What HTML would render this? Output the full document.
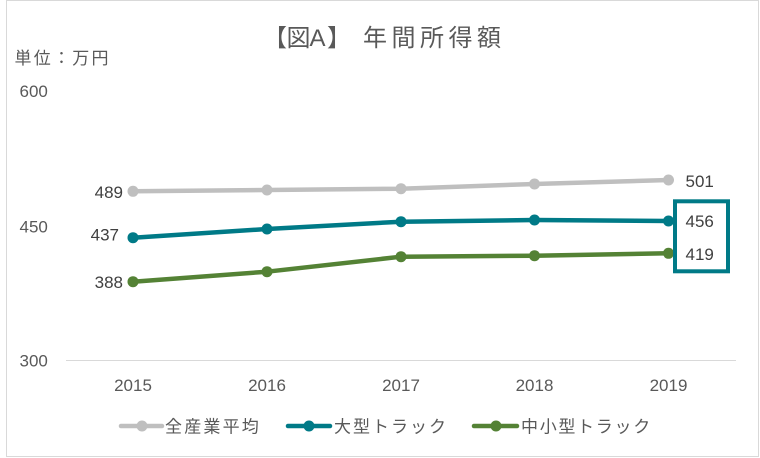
<!DOCTYPE html>
<html>
<head>
<meta charset="utf-8">
<style>
  html, body { margin: 0; padding: 0; background: #ffffff; }
  svg { display: block; }
  .num { font-family: "Liberation Sans", "Noto Sans CJK JP", sans-serif; font-size: 17px; }
  .cjk { font-family: "Liberation Sans", "Noto Sans CJK JP", sans-serif; }
</style>
</head>
<body>
<svg width="760" height="458" viewBox="0 0 760 458" xmlns="http://www.w3.org/2000/svg">
  <rect x="0" y="0" width="760" height="458" fill="#ffffff"/>
  <rect x="6.5" y="0.5" width="752" height="456" fill="#ffffff" stroke="#d9d9d9" stroke-width="1"/>

  <!-- Title -->
  <text class="cjk" font-size="24" fill="#595959" y="46" x="263 286.5 309.5 327 363 391.5 420 448.5 477">【図A】年間所得額</text>

  <!-- Unit -->
  <text class="cjk" font-size="17" fill="#595959" y="64" x="14.5 33.75 53 72.25 91.5">単位：万円</text>

  <!-- Y tick labels -->
  <text class="num" fill="#595959" x="19.5" y="97">600</text>
  <text class="num" fill="#595959" x="19.5" y="232.5">450</text>
  <text class="num" fill="#595959" x="19.5" y="366.5">300</text>

  <!-- Axis line -->
  <line x1="66" y1="360.5" x2="736" y2="360.5" stroke="#d9d9d9" stroke-width="1"/>

  <!-- X labels -->
  <g class="num" fill="#595959" text-anchor="middle">
    <text x="133" y="391">2015</text>
    <text x="267" y="391">2016</text>
    <text x="401" y="391">2017</text>
    <text x="534.5" y="391">2018</text>
    <text x="668.5" y="391">2019</text>
  </g>

  <!-- Series: 全産業平均 -->
  <polyline points="133,191.3 267,190 401,188.7 534.5,184 668.5,180" fill="none" stroke="#bfbfbf" stroke-width="4.5" stroke-linejoin="round" stroke-linecap="round"/>
  <g fill="#bfbfbf">
    <circle cx="133" cy="191.3" r="5.5"/>
    <circle cx="267" cy="190" r="5.5"/>
    <circle cx="401" cy="188.7" r="5.5"/>
    <circle cx="534.5" cy="184" r="5.5"/>
    <circle cx="668.5" cy="180" r="5.5"/>
  </g>

  <!-- Series: 大型トラック -->
  <polyline points="133,237.7 267,229 401,221.7 534.5,220 668.5,221" fill="none" stroke="#007a87" stroke-width="4.5" stroke-linejoin="round" stroke-linecap="round"/>
  <g fill="#007a87">
    <circle cx="133" cy="237.7" r="5.5"/>
    <circle cx="267" cy="229" r="5.5"/>
    <circle cx="401" cy="221.7" r="5.5"/>
    <circle cx="534.5" cy="220" r="5.5"/>
    <circle cx="668.5" cy="221" r="5.5"/>
  </g>

  <!-- Series: 中小型トラック -->
  <polyline points="133,281.7 267,271.7 401,256.7 534.5,255.7 668.5,253.3" fill="none" stroke="#548235" stroke-width="4.5" stroke-linejoin="round" stroke-linecap="round"/>
  <g fill="#548235">
    <circle cx="133" cy="281.7" r="5.5"/>
    <circle cx="267" cy="271.7" r="5.5"/>
    <circle cx="401" cy="256.7" r="5.5"/>
    <circle cx="534.5" cy="255.7" r="5.5"/>
    <circle cx="668.5" cy="253.3" r="5.5"/>
  </g>

  <!-- Data labels -->
  <g class="num" fill="#404040">
    <text x="123" y="198" text-anchor="end">489</text>
    <text x="119" y="240.5" text-anchor="end">437</text>
    <text x="123" y="288" text-anchor="end">388</text>
    <text x="685.5" y="187">501</text>
    <text x="685.5" y="227">456</text>
    <text x="685.5" y="260">419</text>
  </g>

  <!-- Highlight box -->
  <rect x="675" y="201.3" width="53" height="70" fill="none" stroke="#007a87" stroke-width="4"/>

  <!-- Legend -->
  <line x1="121" y1="426" x2="162" y2="426" stroke="#bfbfbf" stroke-width="4.5" stroke-linecap="round"/>
  <circle cx="142" cy="426" r="5.5" fill="#bfbfbf"/>
  <text class="cjk" font-size="17" fill="#595959" x="165" y="432.5" letter-spacing="2.2">全産業平均</text>

  <line x1="288" y1="426" x2="330" y2="426" stroke="#007a87" stroke-width="4.5" stroke-linecap="round"/>
  <circle cx="309" cy="426" r="5.5" fill="#007a87"/>
  <text class="cjk" font-size="17" fill="#595959" x="334" y="432.5" letter-spacing="2">大型トラック</text>

  <line x1="474" y1="426" x2="517" y2="426" stroke="#548235" stroke-width="4.5" stroke-linecap="round"/>
  <circle cx="496" cy="426" r="5.5" fill="#548235"/>
  <text class="cjk" font-size="17" fill="#595959" x="521" y="432.5" letter-spacing="1.7">中小型トラック</text>
</svg>
</body>
</html>
